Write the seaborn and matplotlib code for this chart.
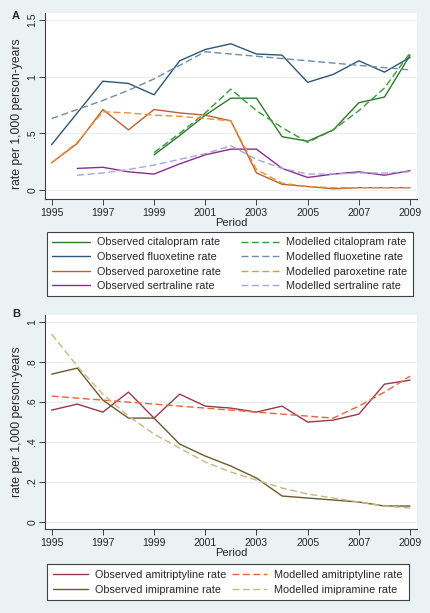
import numpy as np
import pandas as pd
import seaborn as sns
import matplotlib.pyplot as plt

# Years on the x axis
years = list(range(1995, 2010))

# Panel A - SSRIs (rate per 1,000 person-years)
cit_years = list(range(1999, 2010))
cit_obs = [0.31, 0.48, 0.66, 0.81, 0.81, 0.47, 0.43, 0.53, 0.77, 0.82, 1.19]
cit_mod = [0.33, 0.50, 0.68, 0.89, 0.70, 0.55, 0.42, 0.53, 0.70, 0.90, 1.21]

flu_obs = [0.40, 0.68, 0.96, 0.94, 0.84, 1.14, 1.24, 1.29, 1.20, 1.19, 0.95, 1.02, 1.14, 1.04, 1.17]
flu_mod = [0.63, 0.71, 0.79, 0.88, 0.98, 1.10, 1.22, 1.20, 1.18, 1.16, 1.14, 1.12, 1.10, 1.08, 1.06]

par_obs = [0.24, 0.41, 0.71, 0.53, 0.71, 0.68, 0.66, 0.61, 0.15, 0.05, 0.03, 0.01, 0.02, 0.02, 0.02]
par_mod = [0.24, 0.42, 0.69, 0.68, 0.66, 0.65, 0.63, 0.61, 0.18, 0.06, 0.03, 0.02, 0.02, 0.02, 0.02]

ser_years = list(range(1996, 2010))
ser_obs = [0.19, 0.20, 0.16, 0.14, 0.23, 0.31, 0.36, 0.36, 0.19, 0.11, 0.14, 0.16, 0.13, 0.17]
ser_mod = [0.13, 0.15, 0.18, 0.22, 0.27, 0.32, 0.39, 0.27, 0.19, 0.14, 0.14, 0.15, 0.15, 0.16]

# Panel B - tricyclics
ami_obs = [0.56, 0.59, 0.55, 0.65, 0.52, 0.64, 0.58, 0.57, 0.55, 0.58, 0.50, 0.51, 0.54, 0.69, 0.71]
ami_mod = [0.63, 0.62, 0.61, 0.60, 0.59, 0.58, 0.57, 0.56, 0.55, 0.54, 0.53, 0.52, 0.58, 0.65, 0.73]

imi_obs = [0.74, 0.77, 0.61, 0.52, 0.52, 0.39, 0.33, 0.28, 0.22, 0.13, 0.12, 0.11, 0.10, 0.08, 0.08]
imi_mod = [0.94, 0.78, 0.64, 0.53, 0.44, 0.37, 0.30, 0.25, 0.21, 0.17, 0.14, 0.12, 0.10, 0.08, 0.07]

xticks = [1995, 1997, 1999, 2001, 2003, 2005, 2007, 2009]

sns.set_style("white")
plt.rcParams['font.family'] = ['Liberation Sans', 'DejaVu Sans']

bg = "#EAF2F3"
fig = plt.figure(figsize=(4.3, 6.13), dpi=100, facecolor=bg)

axA = fig.add_axes([45 / 430, 1 - 199 / 613, 372 / 430, 186 / 613])
axB = fig.add_axes([45 / 430, 1 - 529 / 613, 372 / 430, 214 / 613])

dash = (0, (5, 2.5))

seriesA = [
    ("Observed citalopram rate", cit_years, cit_obs, "#2B7A2B", "-"),
    ("Observed fluoxetine rate", years, flu_obs, "#2F5577", "-"),
    ("Observed paroxetine rate", years, par_obs, "#B5633A", "-"),
    ("Observed sertraline rate", ser_years, ser_obs, "#8B2C8F", "-"),
    ("Modelled citalopram rate", cit_years, cit_mod, "#3A9A3A", dash),
    ("Modelled fluoxetine rate", years, flu_mod, "#6F8CA8", dash),
    ("Modelled paroxetine rate", years, par_mod, "#F0902E", dash),
    ("Modelled sertraline rate", ser_years, ser_mod, "#A9A3DC", dash),
]

seriesB = [
    ("Observed amitriptyline rate", years, ami_obs, "#99384A", "-"),
    ("Observed imipramine rate", years, imi_obs, "#6A5A30", "-"),
    ("Modelled amitriptyline rate", years, ami_mod, "#E8653C", dash),
    ("Modelled imipramine rate", years, imi_mod, "#C9B87E", dash),
]


def draw(ax, series, ylim, yticks, ylabels, label_y):
    for label, xs, ys, color, ls in series:
        df = pd.DataFrame({"Period": xs, "rate": ys})
        sns.lineplot(data=df, x="Period", y="rate", ax=ax, color=color,
                     linestyle=ls, linewidth=1.0, label=label)
    ax.set_facecolor("white")
    ax.set_xlim(1994.74, 2009.27)
    ax.set_ylim(*ylim)
    ax.set_xticks(xticks)
    ax.set_xticklabels([str(y) for y in xticks], fontsize=7.5)
    ax.set_yticks(yticks)
    ax.set_yticklabels(ylabels, fontsize=7.5, rotation=90, va="center")
    ax.grid(axis="y", color="#E6EEEF", linewidth=0.8)
    ax.grid(axis="x", visible=False)
    for s in ["top", "right"]:
        ax.spines[s].set_visible(False)
    for s in ["left", "bottom"]:
        ax.spines[s].set_color("#404040")
        ax.spines[s].set_linewidth(0.8)
    ax.tick_params(axis="both", direction="out", length=4.5, width=0.7,
                   color="#404040", pad=2, left=True, bottom=True)
    ax.tick_params(axis="y", pad=1)
    ax.set_xlabel("Period", fontsize=8, labelpad=0)
    ax.set_ylabel("rate per 1,000 person-years", fontsize=8.7)
    ax.yaxis.set_label_coords(-0.058, label_y)


draw(axA, seriesA, (-0.08, 1.562), [0, 0.5, 1, 1.5], ["0", ".5", "1", "1.5"], 0.46)
draw(axB, seriesB, (-0.035, 1.036), [0, 0.2, 0.4, 0.6, 0.8, 1],
     ["0", ".2", ".4", ".6", ".8", "1"], 0.5)

# legend placement (top-left corner in figure coords), column spacing, handle length
legends = [(axA, (47 / 430, 1 - 232 / 613), 1.85, 3.5, 0.5),
           (axB, (47 / 430, 1 - 564 / 613), 0.6, 3.2, 0.55)]
for ax, anchor, colsp, hlen, bpad in legends:
    h, l = ax.get_legend_handles_labels()
    leg = ax.legend(h, l, ncol=2, bbox_to_anchor=anchor, bbox_transform=fig.transFigure,
                    loc="upper left", fontsize=7.8, frameon=True,
                    fancybox=False, edgecolor="#404040", framealpha=1,
                    handlelength=hlen, handletextpad=0.65, labelspacing=0.42,
                    borderaxespad=0, borderpad=bpad, columnspacing=colsp)
    leg.get_frame().set_linewidth(0.8)

fig.text(12 / 430, 1 - 16 / 613, "A", fontsize=8, fontweight="bold", va="center")
fig.text(12 / 430, 1 - 314 / 613, "B", fontsize=8, fontweight="bold", va="center")

fig.savefig("out.png", dpi=100, facecolor=bg)
